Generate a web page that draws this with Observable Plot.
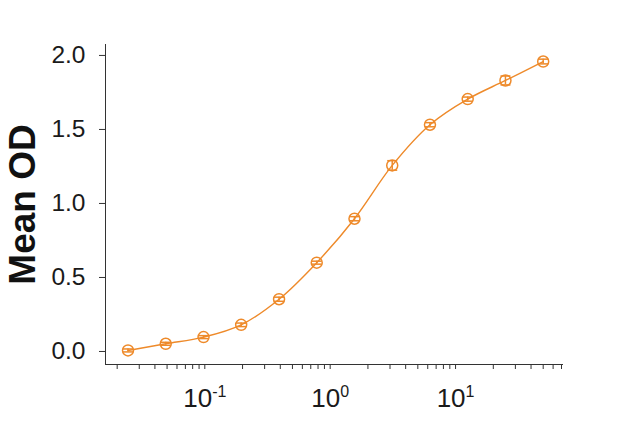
<!DOCTYPE html>
<html>
<head>
<meta charset="utf-8">
<script src="https://cdn.jsdelivr.net/npm/d3@7"></script>
<script src="https://cdn.jsdelivr.net/npm/@observablehq/plot@0.6"></script>
<style>
  html, body { margin: 0; padding: 0; background: #fff; }
  #chart svg { display: block; }
</style>
</head>
<body>
<div id="chart"></div>
<script>
// Data (2-fold dilution series)
const concentration = [0.0244, 0.0488, 0.0977, 0.195, 0.391, 0.781, 1.5625, 3.125, 6.25, 12.5, 25, 50];
const meanOD       = [0.007, 0.052, 0.097, 0.180, 0.353, 0.600, 0.897, 1.257, 1.532, 1.705, 1.831, 1.959];
const errorOD      = [0.010, 0.010, 0.010, 0.012, 0.014, 0.010, 0.014, 0.032, 0.014, 0.014, 0.030, 0.016];
const yTicks = [0, 0.5, 1.0, 1.5, 2.0];
const xDecades = [0.1, 1, 10];
const xMinorTicks = [0.02,0.03,0.04,0.05,0.06,0.07,0.08,0.09,0.1,0.2,0.3,0.4,0.5,0.6,0.7,0.8,0.9,1,2,3,4,5,6,7,8,9,10,20,30,40,50,60,70];
const yLabel = "Mean OD";
const xDomain = [0.01614, 72.6];
const yDomain = [-0.088, 2.074];

const color = "#EE8A2A";
const rows = concentration.map((c, i) => ({c, y: meanOD[i], lo: meanOD[i] - errorOD[i], hi: meanOD[i] + errorOD[i]}));

const capSymbol = {
  draw(ctx, size) {
    const r = Math.sqrt(size / Math.PI);
    ctx.moveTo(-r, 0);
    ctx.lineTo(r, 0);
  }
};

const chart = Plot.plot({
  width: 623,
  height: 423,
  marginLeft: 105,
  marginRight: 60,
  marginTop: 44,
  marginBottom: 59,
  style: {fontFamily: "Arial, 'Liberation Sans', sans-serif", color: "#222", background: "#fff"},
  x: {type: "log", domain: xDomain},
  y: {domain: yDomain},
  marks: [
    Plot.ruleX([xDomain[0]], {stroke: "#333", strokeWidth: 1}),
    Plot.ruleY([yDomain[0]], {stroke: "#333", strokeWidth: 1}),
    Plot.axisY({ticks: yTicks, tickFormat: d => d.toFixed(1), tickSize: 6, tickPadding: 14, fontSize: 24.5, label: null, stroke: "#333", fill: "#1a1a1a"}),
    Plot.axisX({ticks: xMinorTicks, tickFormat: d => xDecades.includes(d) ? `10^${Math.round(Math.log10(d))}` : "", tickSize: 5, tickPadding: 19, fontSize: 26, label: null, stroke: "#333", fill: "#1a1a1a"}),
    Plot.text([yLabel], {frameAnchor: "left", rotate: -90, dx: -82, fontSize: 37, fontWeight: "bold", fill: "#111", textAnchor: "middle", lineAnchor: "middle"}),
    Plot.line(rows, {x: "c", y: "y", stroke: color, strokeWidth: 1.4, curve: "catmull-rom"}),
    Plot.ruleX(rows, {x: "c", y1: "lo", y2: "hi", stroke: color, strokeWidth: 1.5}),
    Plot.dot(rows, {x: "c", y: "lo", symbol: capSymbol, r: 5, stroke: color, strokeWidth: 1.5}),
    Plot.dot(rows, {x: "c", y: "hi", symbol: capSymbol, r: 5, stroke: color, strokeWidth: 1.5}),
    Plot.dot(rows, {x: "c", y: "y", r: 5.5, stroke: color, fill: "none", strokeWidth: 1.5})
  ]
});

// superscript exponents on x tick labels
d3.select(chart).selectAll('g[aria-label="x-axis tick label"] text').each(function() {
  const t = d3.select(this);
  const s = t.text();
  if (!s.includes("^")) return;
  const [base, exp] = s.split("^");
  t.text(null);
  t.append("tspan").text(base);
  t.append("tspan").attr("dy", "-0.62em").attr("font-size", "16px").text(exp);
});

document.getElementById("chart").appendChild(chart);
</script>
</body>
</html>
